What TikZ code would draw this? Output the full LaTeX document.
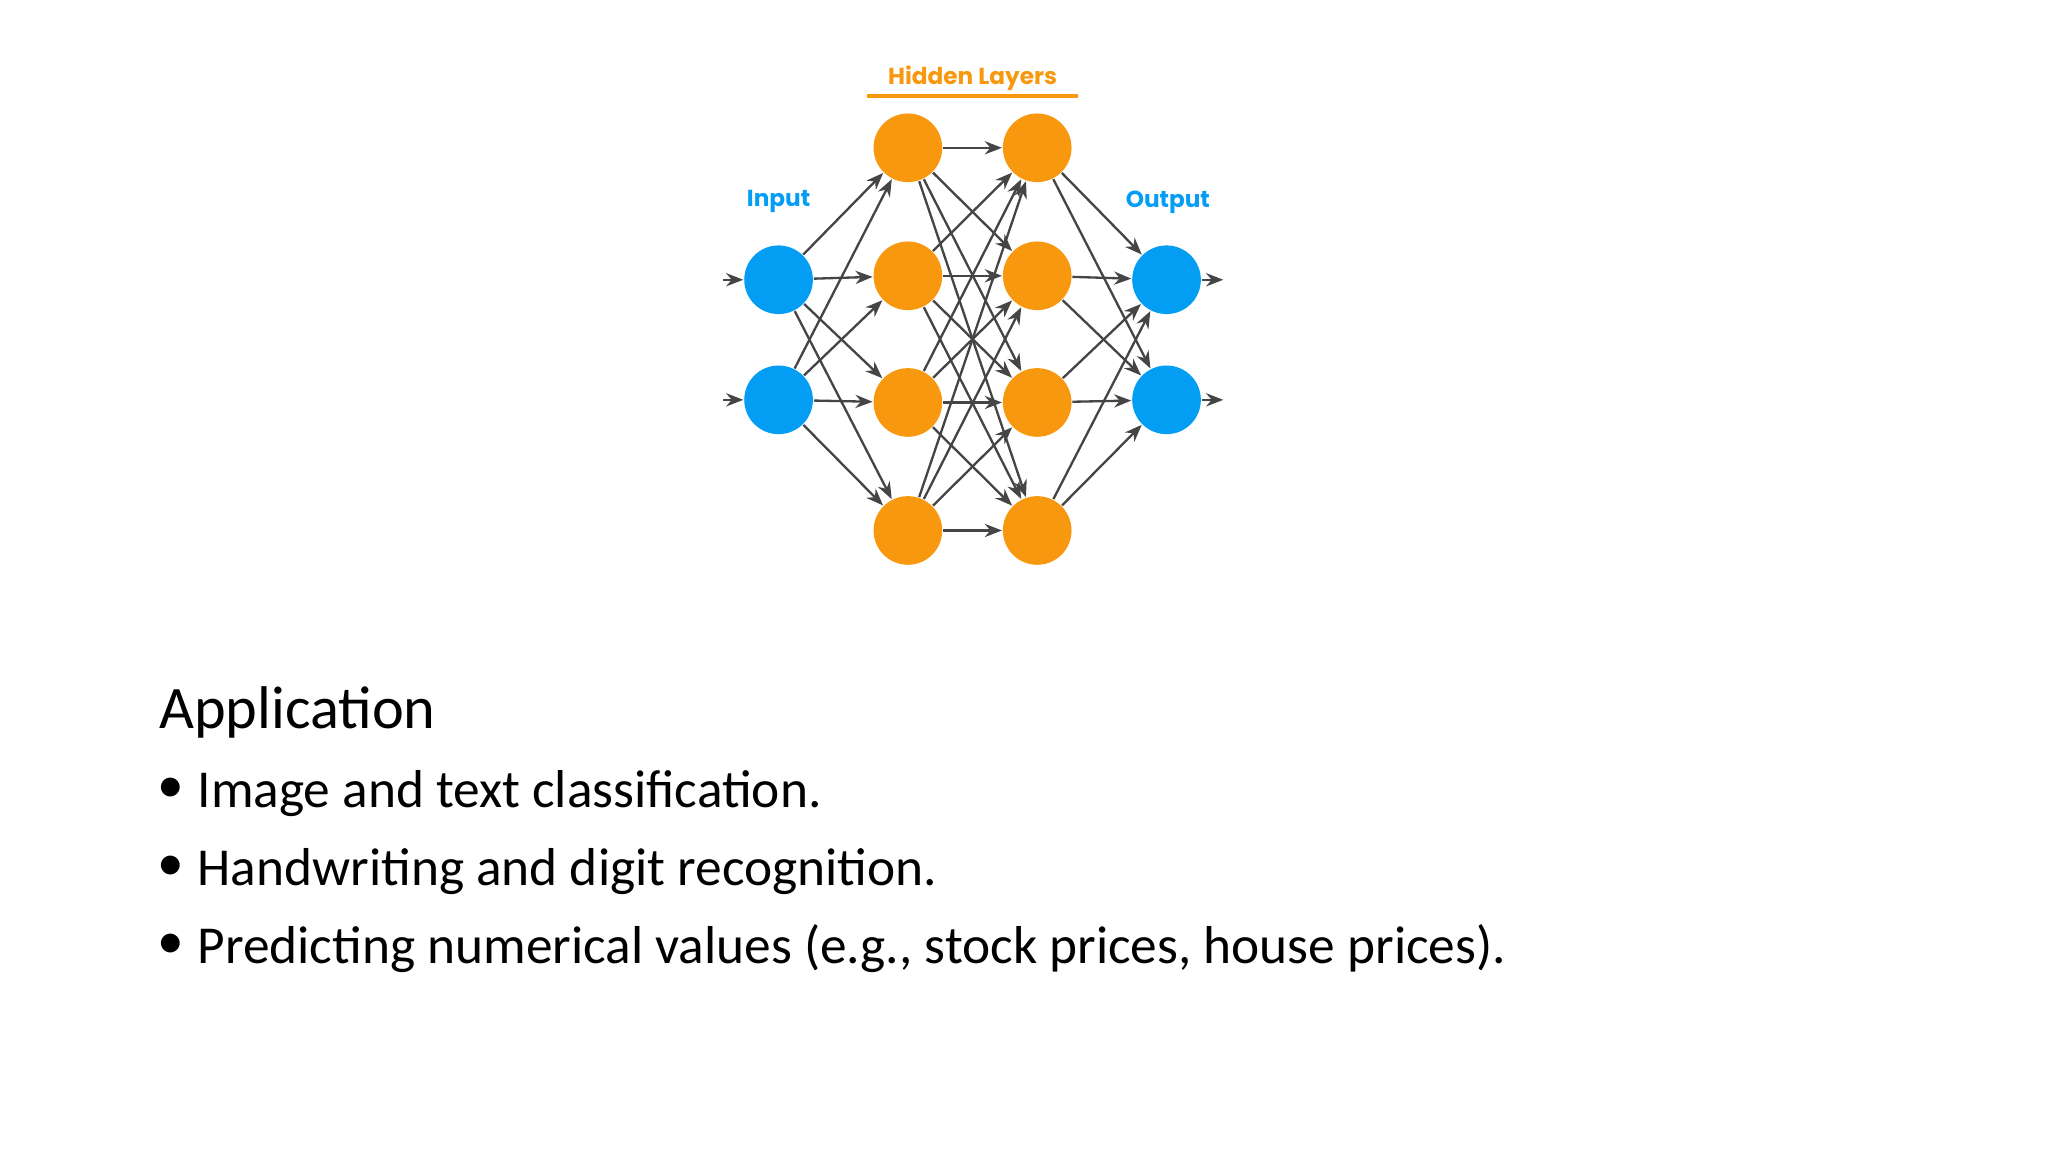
\documentclass[tikz,border=0pt]{standalone}
\usepackage{fontspec}
\setmainfont{Carlito}
\newfontfamily\labfont{Poppins}
\usetikzlibrary{arrows.meta}
\definecolor{bl}{HTML}{049DF4}
\definecolor{og}{HTML}{F7980F}
\definecolor{ed}{HTML}{454545}
\begin{document}
\begin{tikzpicture}[x=0.01cm,y=-0.01cm,
  neu/.style={circle,minimum size=0.52cm,inner sep=0pt},
  inn/.style={neu,fill=bl},
  hid/.style={neu,fill=og},
  con/.style={draw=ed,line width=0.5pt,-{Stealth[length=1.3mm,width=1mm]}},
  lab/.style={font=\labfont\bfseries\fontsize{5pt}{6pt}\selectfont}]
\useasboundingbox (0,0) rectangle (1552,873);
\node[inn] (i1) at (590,212) {};
\node[inn] (i2) at (590,303) {};
\foreach \y [count=\k] in {112,209,305,402}{
  \node[hid] (a\k) at (688,\y) {};
  \node[hid] (b\k) at (786,\y) {};}
\node[inn] (o1) at (884,212) {};
\node[inn] (o2) at (884,303) {};
\foreach \i in {1,2}\foreach \k in {1,...,4}{\draw[con] (i\i) -- (a\k);}
\foreach \i in {1,...,4}\foreach \k in {1,...,4}{\draw[con] (a\i) -- (b\k);}
\foreach \i in {1,...,4}\foreach \k in {1,2}{\draw[con] (b\i) -- (o\k);}
\coordinate (s1) at (548,212); \coordinate (s2) at (548,303);
\coordinate (e1) at (927,212); \coordinate (e2) at (927,303);
\draw[con] (s1) -- (i1); \draw[con] (s2) -- (i2);
\draw[con] (o1) -- (e1); \draw[con] (o2) -- (e2);
\node[lab,text=bl] (tin) at (590,153) {Input};
\node[lab,text=bl] (tout) at (885,153) {Output};
\node[lab,text=og] (thid) at (737,59) {Hidden Layers};
\draw[og,line width=0.8pt] (657,73) -- (817,73);
\node[anchor=base west,font=\fontsize{13pt}{15pt}\selectfont,inner sep=0pt] (app) at (120,552) {Application};
\foreach \t/\y [count=\n] in {Image and text classification./612, Handwriting and digit recognition./671, {Predicting numerical values (e.g., stock prices, house prices).}/730}{
  \node[anchor=base west,font=\fontsize{11.5pt}{14pt}\selectfont,inner sep=0pt] (t\n) at (149,\y) {\t};
  \node[anchor=base west,font=\fontsize{11.5pt}{14pt}\selectfont,inner sep=0pt] (d\n) at (119,\y-4) {•};}
\end{tikzpicture}
\end{document}
